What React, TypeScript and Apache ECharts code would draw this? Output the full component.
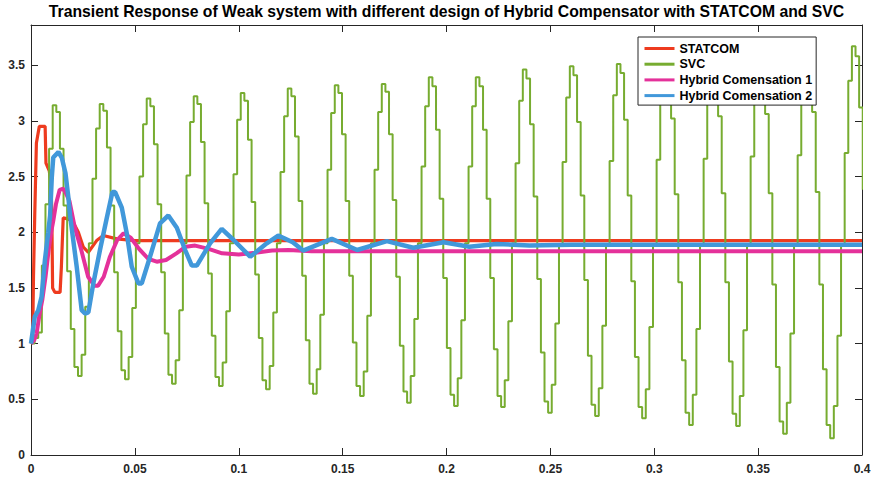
import React, { useEffect, useRef } from "react";
import * as echarts from "echarts";

const TITLE =
  "Transient Response of Weak system with different design of Hybrid Compensator with STATCOM and SVC";
const SERIES_NAMES = ["STATCOM", "SVC", "Hybrid Comensation 1", "Hybrid Comensation 2"];
const SERIES_COLORS = ["#EE3B1F", "#77AC30", "#E4319A", "#4198DA"];

// SVC: zero-order-hold samples, one value per sample period
const SVC_DT = 0.0017407;
const svcValues = [
  1.0, 1.05, 1.1, 1.7, 2.25, 2.75,
  3.14, 3.08, 2.75, 2.24, 1.65, 1.13, 0.79, 0.71, 0.9, 1.33, 1.9, 2.48, 2.93,
  3.15, 3.09, 2.76, 2.24, 1.64, 1.11, 0.76, 0.68, 0.88, 1.32, 1.9, 2.5, 2.97,
  3.2, 3.13, 2.79, 2.25, 1.64, 1.09, 0.72, 0.64, 0.85, 1.3, 1.9, 2.51, 2.99,
  3.22, 3.15, 2.81, 2.26, 1.63, 1.07, 0.7, 0.62, 0.83, 1.29, 1.9, 2.52, 3.01,
  3.25, 3.18, 2.83, 2.27, 1.62, 1.05, 0.67, 0.59, 0.8, 1.28, 1.9, 2.54, 3.04,
  3.29, 3.22, 2.86, 2.28, 1.61, 1.03, 0.64, 0.55, 0.77, 1.26, 1.9, 2.56, 3.07,
  3.32, 3.25, 2.88, 2.28, 1.61, 1.01, 0.62, 0.53, 0.75, 1.25, 1.9, 2.56, 3.08,
  3.33, 3.26, 2.88, 2.29, 1.6, 0.98, 0.57, 0.47, 0.71, 1.22, 1.9, 2.59, 3.13,
  3.39, 3.31, 2.92, 2.3, 1.59, 0.96, 0.54, 0.44, 0.69, 1.21, 1.9, 2.59, 3.13,
  3.39, 3.31, 2.92, 2.3, 1.59, 0.95, 0.53, 0.43, 0.67, 1.2, 1.9, 2.62, 3.18,
  3.46, 3.38, 2.97, 2.32, 1.58, 0.92, 0.48, 0.38, 0.63, 1.18, 1.89, 2.63, 3.21,
  3.49, 3.41, 2.99, 2.33, 1.57, 0.89, 0.45, 0.35, 0.6, 1.16, 1.89, 2.64, 3.23,
  3.51, 3.43, 3.01, 2.33, 1.56, 0.88, 0.43, 0.33, 0.59, 1.15, 1.89, 2.65, 3.24,
  3.53, 3.45, 3.02, 2.34, 1.55, 0.85, 0.38, 0.27, 0.54, 1.13, 1.89, 2.66, 3.27,
  3.56, 3.48, 3.04, 2.35, 1.55, 0.84, 0.37, 0.26, 0.53, 1.12, 1.89, 2.68, 3.29,
  3.59, 3.51, 3.06, 2.35, 1.53, 0.79, 0.3, 0.19, 0.47, 1.09, 1.89, 2.69, 3.32,
  3.62, 3.54, 3.08, 2.36, 1.53, 0.77, 0.27, 0.15, 0.44, 1.07, 1.89, 2.71, 3.36,
  3.67, 3.58, 3.12, 2.38,
];

const statcomT = [
  0, 0.0008, 0.0012, 0.0018, 0.0026, 0.004, 0.0068, 0.0072, 0.0088, 0.0096, 0.01, 0.0104,
  0.0115, 0.014, 0.0146, 0.0155, 0.0175, 0.02, 0.0228, 0.0252, 0.0276, 0.0316, 0.0348, 0.0413,
  0.05, 0.4,
];
const statcomV = [
  1.0, 1.05, 1.6, 2.15, 2.8, 2.95, 2.95, 2.62, 2.55, 2.44, 2.2, 1.5,
  1.46, 1.46, 1.68, 2.13, 2.12, 2.1, 2.0, 1.865, 1.82, 1.925, 1.97, 1.94,
  1.925, 1.925,
];

const hybrid1T = [
  0, 0.0015, 0.0027, 0.004, 0.0055, 0.007, 0.0085, 0.0097, 0.0107, 0.012, 0.0138, 0.0155,
  0.0168, 0.0185, 0.021, 0.0242, 0.0275, 0.0305, 0.0323, 0.035, 0.038, 0.0415, 0.0445, 0.048,
  0.052, 0.0565, 0.0605, 0.065, 0.07, 0.0745, 0.079, 0.0855, 0.092, 0.1, 0.108, 0.116, 0.124,
  0.135, 0.15, 0.4,
];
const hybrid1V = [
  1.0, 1.03, 1.09, 1.25, 1.4, 1.6, 1.84, 2.0, 2.1, 2.25, 2.38, 2.39,
  2.35, 2.28, 2.05, 1.84, 1.6, 1.52, 1.52, 1.6, 1.78, 1.93, 1.99, 1.95,
  1.85, 1.76, 1.735, 1.75, 1.81, 1.87, 1.88, 1.85, 1.81, 1.8, 1.815, 1.835, 1.84,
  1.83, 1.83, 1.83,
];

const hybrid2T = [
  0, 0.0018, 0.0035, 0.0051, 0.0067, 0.0083, 0.0092, 0.01, 0.0107, 0.0132, 0.0148, 0.0166,
  0.018, 0.0188, 0.022, 0.0244, 0.026, 0.0276, 0.03, 0.0332, 0.0365, 0.0392, 0.0405, 0.0437,
  0.0461, 0.0485, 0.0517, 0.0533, 0.0573, 0.0621, 0.0661, 0.0702, 0.0742, 0.0774, 0.0798,
  0.0862, 0.0918, 0.0975, 0.1055, 0.1135, 0.119, 0.126, 0.131, 0.1448, 0.157, 0.1713, 0.184,
  0.1986, 0.211, 0.224, 0.24, 0.26, 0.4,
];
const hybrid2V = [
  1.0, 1.24, 1.3, 1.42, 1.75, 2.0, 2.15, 2.49, 2.67, 2.72, 2.67, 2.53,
  2.31, 2.15, 1.69, 1.3, 1.27, 1.28, 1.54, 1.84, 2.13, 2.36, 2.36, 2.22,
  1.99, 1.69, 1.54, 1.54, 1.78, 2.08, 2.15, 2.04, 1.84, 1.7, 1.7,
  1.9, 2.03, 1.93, 1.78, 1.9, 1.97, 1.91, 1.835, 1.94, 1.84, 1.92, 1.86,
  1.91, 1.87, 1.895, 1.88, 1.888, 1.887,
];

const X_MIN = 0;
const X_MAX = 0.4;
const X_INTERVAL = 0.05;
const Y_MIN = 0;
const Y_MAX = 3.86;
const Y_INTERVAL = 0.5;

const FONT = "'Liberation Sans', Arial, Helvetica, sans-serif";
const AXIS_COLOR = "#262626";

function pairs(t: number[], v: number[]) {
  return t.map((x, i) => [x, v[i]]);
}

export default function App() {
  const ref = useRef<HTMLDivElement>(null);
  useEffect(() => {
    document.body.style.margin = "0";
    const chart = echarts.init(ref.current as HTMLDivElement, null, { renderer: "svg" });
    const svcData = svcValues.map((v, i) => [i * SVC_DT, v]);
    const yLabel = (v: number) =>
      Math.abs(v / Y_INTERVAL - Math.round(v / Y_INTERVAL)) < 1e-6 ? String(v) : "";
    const axisCommon = {
      axisLine: { show: true, onZero: false, lineStyle: { color: AXIS_COLOR, width: 1 } },
      axisTick: { show: true, inside: true, length: 7, lineStyle: { color: AXIS_COLOR, width: 1 } },
      splitLine: { show: false },
    };
    const labelStyle = {
      color: AXIS_COLOR,
      fontSize: 12,
      fontWeight: "bold" as const,
      fontFamily: FONT,
    };
    chart.setOption({
      animation: false,
      backgroundColor: "#ffffff",
      grid: { left: 31, right: 16, top: 25, bottom: 27, containLabel: false },
      graphic: [
        {
          type: "text",
          x: 446.5,
          y: 11.5,
          style: {
            text: TITLE,
            fontSize: 15.75,
            fontWeight: "bold",
            fontFamily: FONT,
            fill: "#000000",
            align: "center",
            verticalAlign: "middle",
          },
        },
      ],
      legend: {
        data: SERIES_NAMES,
        orient: "vertical",
        left: 638,
        top: 37,
        padding: [5, 4, 3, 5],
        itemWidth: 30,
        itemHeight: 14,
        itemGap: 2.7,
        backgroundColor: "#ffffff",
        borderColor: AXIS_COLOR,
        borderWidth: 1,
        borderRadius: 0,
        itemStyle: { opacity: 0 },
        lineStyle: { width: 3 },
        textStyle: { fontSize: 12.5, fontWeight: "bold", color: "#000000", fontFamily: FONT },
      },
      xAxis: [
        {
          type: "value",
          min: X_MIN,
          max: X_MAX,
          interval: X_INTERVAL,
          position: "bottom",
          ...axisCommon,
          axisLabel: { ...labelStyle, margin: 8 },
        },
        {
          type: "value",
          min: X_MIN,
          max: X_MAX,
          interval: X_INTERVAL,
          position: "top",
          ...axisCommon,
          axisLabel: { show: false },
        },
      ],
      yAxis: [
        {
          type: "value",
          min: Y_MIN,
          max: Y_MAX,
          interval: Y_INTERVAL,
          position: "left",
          ...axisCommon,
          axisLabel: { ...labelStyle, margin: 6, formatter: yLabel },
        },
        {
          type: "value",
          min: Y_MIN,
          max: Y_MAX,
          interval: Y_INTERVAL,
          position: "right",
          ...axisCommon,
          axisLabel: { show: false },
        },
      ],
      series: [
        {
          name: SERIES_NAMES[0],
          type: "line",
          symbol: "none",
          data: pairs(statcomT, statcomV),
          lineStyle: { color: SERIES_COLORS[0], width: 3.2 },
          itemStyle: { color: SERIES_COLORS[0] },
          xAxisIndex: 0,
          yAxisIndex: 0,
        },
        {
          name: SERIES_NAMES[1],
          type: "line",
          symbol: "none",
          step: "end",
          data: svcData,
          lineStyle: { color: SERIES_COLORS[1], width: 2 },
          itemStyle: { color: SERIES_COLORS[1] },
          xAxisIndex: 0,
          yAxisIndex: 0,
        },
        {
          name: SERIES_NAMES[2],
          type: "line",
          symbol: "none",
          data: pairs(hybrid1T, hybrid1V),
          lineStyle: { color: SERIES_COLORS[2], width: 4 },
          itemStyle: { color: SERIES_COLORS[2] },
          xAxisIndex: 0,
          yAxisIndex: 0,
        },
        {
          name: SERIES_NAMES[3],
          type: "line",
          symbol: "none",
          data: pairs(hybrid2T, hybrid2V),
          lineStyle: { color: SERIES_COLORS[3], width: 4.5 },
          itemStyle: { color: SERIES_COLORS[3] },
          xAxisIndex: 0,
          yAxisIndex: 0,
        },
      ],
    });
    return () => chart.dispose();
  }, []);
  return (
    <div
      ref={ref}
      style={{ position: "absolute", left: 0, top: 0, width: 878, height: 482 }}
    />
  );
}
